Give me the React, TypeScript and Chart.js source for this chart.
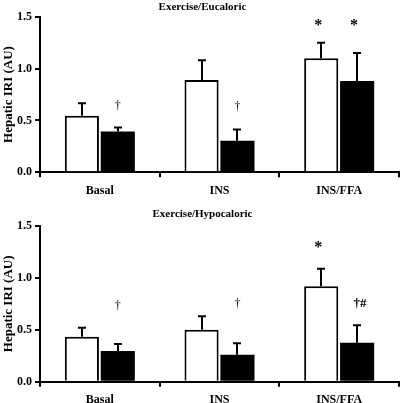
import React, { useEffect, useRef } from "react";
import { Chart, registerables } from "chart.js";

Chart.register(...registerables);

const FONT = "'Liberation Serif', 'Times New Roman', serif";

const categories = ["Basal", "INS", "INS/FFA"];
const yTicks = [0, 0.5, 1.0, 1.5];
const yAxisLabel = "Hepatic IRI (AU)";

// Panel 1: Exercise/Eucaloric
const eucaloricTitle = "Exercise/Eucaloric";
const eucaloricWhite = [0.545, 0.89, 1.1];
const eucaloricWhiteErr = [0.12, 0.19, 0.15];
const eucaloricBlack = [0.393, 0.303, 0.88];
const eucaloricBlackErr = [0.04, 0.11, 0.27];
const eucaloricMarkCats = [0, 1, 2, 2];
const eucaloricMarkSeries = [1, 1, 0, 1];
const eucaloricMarkText = ["†", "†", "*", "*"];
const eucaloricMarkLevel = [0.64, 0.63, 1.445, 1.445];

// Panel 2: Exercise/Hypocaloric
const hypocaloricTitle = "Exercise/Hypocaloric";
const hypocaloricWhite = [0.433, 0.5, 0.919];
const hypocaloricWhiteErr = [0.087, 0.13, 0.17];
const hypocaloricBlack = [0.296, 0.26, 0.376];
const hypocaloricBlackErr = [0.067, 0.11, 0.167];
const hypocaloricMarkCats = [0, 1, 2, 2];
const hypocaloricMarkSeries = [1, 1, 0, 1];
const hypocaloricMarkText = ["†", "†", "*", "†#"];
const hypocaloricMarkLevel = [0.73, 0.757, 1.317, 0.757];

function markFont(t: string) {
  if (t === "*") return `bold 16px ${FONT}`;
  if (t === "†") return `12px ${FONT}`;
  return `bold 13px ${FONT}`;
}
function markDx(t: string) {
  if (t === "*") return -3;
  if (t === "†#") return 3;
  return 0;
}

function drawCentered(ctx: CanvasRenderingContext2D, text: string, x: number, cy: number) {
  const m = ctx.measureText(text);
  ctx.textAlign = "center";
  ctx.textBaseline = "alphabetic";
  const by = cy + (m.actualBoundingBoxAscent - m.actualBoundingBoxDescent) / 2;
  ctx.fillText(text, x, by);
}

type PanelProps = {
  title: string;
  white: number[];
  whiteErr: number[];
  black: number[];
  blackErr: number[];
  markCats: number[];
  markSeries: number[];
  markText: string[];
  markLevel: number[];
  top: number;
  height: number;
  padTop: number;
  xHeight: number;
  titleY: number;
};

function Panel(p: PanelProps) {
  const ref = useRef<HTMLCanvasElement>(null);
  useEffect(() => {
    const canvas = ref.current!;
    const errs = [p.whiteErr, p.blackErr];
    const plugin = {
      id: "extras",
      afterDatasetsDraw(chart: any) {
        const ctx: CanvasRenderingContext2D = chart.ctx;
        const ys = chart.scales.y;
        ctx.save();
        ctx.strokeStyle = "#000";
        ctx.lineWidth = 2;
        chart.data.datasets.forEach((ds: any, di: number) => {
          const meta = chart.getDatasetMeta(di);
          meta.data.forEach((bar: any, i: number) => {
            const v = ds.data[i];
            const e = errs[di][i];
            const x = Math.round(bar.x);
            const y0 = ys.getPixelForValue(v);
            const y1 = ys.getPixelForValue(v + e);
            ctx.beginPath();
            ctx.moveTo(x, y0);
            ctx.lineTo(x, y1);
            ctx.moveTo(x - 4, y1);
            ctx.lineTo(x + 4, y1);
            ctx.stroke();
          });
        });
        ctx.fillStyle = "#000";
        p.markText.forEach((t, k) => {
          const meta = chart.getDatasetMeta(p.markSeries[k]);
          const bar: any = meta.data[p.markCats[k]];
          ctx.font = markFont(t);
          drawCentered(ctx, t, bar.x + markDx(t), ys.getPixelForValue(p.markLevel[k]));
        });
        ctx.restore();
      },
      afterDraw(chart: any) {
        const ctx: CanvasRenderingContext2D = chart.ctx;
        const area = chart.chartArea;
        ctx.save();
        ctx.fillStyle = "#000";
        ctx.font = `bold 11px ${FONT}`;
        drawCentered(ctx, p.title, 202.5, p.titleY);
        ctx.translate(12, (area.top + area.bottom) / 2);
        ctx.rotate(-Math.PI / 2);
        ctx.font = `bold 13px ${FONT}`;
        ctx.textAlign = "center";
        ctx.textBaseline = "alphabetic";
        ctx.fillText(yAxisLabel, 0, 0);
        ctx.restore();
      },
    };
    const chart = new Chart(canvas, {
      type: "bar",
      data: {
        labels: categories,
        datasets: [
          {
            data: p.white,
            backgroundColor: "#ffffff",
            borderColor: "#000000",
            borderWidth: 2,
            categoryPercentage: 0.6,
            barPercentage: 0.95,
          },
          {
            data: p.black,
            backgroundColor: "#000000",
            borderColor: "#000000",
            borderWidth: 0,
            categoryPercentage: 0.6,
            barPercentage: 0.95,
          },
        ],
      },
      options: {
        animation: false,
        responsive: false,
        devicePixelRatio: 1,
        layout: { padding: { top: p.padTop, right: 1, left: 0, bottom: 0 } },
        plugins: {
          legend: { display: false },
          tooltip: { enabled: false },
          title: { display: false },
        },
        scales: {
          x: {
            grid: {
              display: true,
              drawOnChartArea: false,
              drawTicks: true,
              tickLength: 5,
              color: "#000",
              lineWidth: 2,
              offset: true,
            },
            border: { display: true, color: "#000", width: 2 },
            ticks: {
              color: "#000",
              font: { family: FONT, weight: "bold", size: 12 },
              padding: 6,
            },
            afterFit: (s: any) => {
              s.height = p.xHeight;
            },
          },
          y: {
            min: 0,
            max: 1.5,
            grid: {
              drawOnChartArea: false,
              drawTicks: true,
              tickLength: 5,
              color: "#000",
              lineWidth: 2,
            },
            border: { display: true, color: "#000", width: 2 },
            ticks: {
              color: "#000",
              font: { family: FONT, weight: "bold", size: 12 },
              padding: 3,
              callback: (v: any) => Number(v).toFixed(1),
            },
            afterBuildTicks: (s: any) => {
              s.ticks = yTicks.map((v) => ({ value: v }));
            },
            afterFit: (s: any) => {
              s.width = 40;
            },
          },
        },
      },
      plugins: [plugin],
    } as any);
    return () => chart.destroy();
  }, []);
  return (
    <canvas
      ref={ref}
      width={400}
      height={p.height}
      style={{ position: "absolute", left: 0, top: p.top, width: 400, height: p.height, display: "block" }}
    />
  );
}

export default function App() {
  return (
    <div style={{ position: "absolute", left: 0, top: 0, width: 400, height: 403, background: "#fff" }}>
      <Panel
        title={eucaloricTitle}
        white={eucaloricWhite}
        whiteErr={eucaloricWhiteErr}
        black={eucaloricBlack}
        blackErr={eucaloricBlackErr}
        markCats={eucaloricMarkCats}
        markSeries={eucaloricMarkSeries}
        markText={eucaloricMarkText}
        markLevel={eucaloricMarkLevel}
        top={0}
        height={200}
        padTop={16.7}
        xHeight={27.7}
        titleY={6.5}
      />
      <Panel
        title={hypocaloricTitle}
        white={hypocaloricWhite}
        whiteErr={hypocaloricWhiteErr}
        black={hypocaloricBlack}
        blackErr={hypocaloricBlackErr}
        markCats={hypocaloricMarkCats}
        markSeries={hypocaloricMarkSeries}
        markText={hypocaloricMarkText}
        markLevel={hypocaloricMarkLevel}
        top={200}
        height={203}
        padTop={26}
        xHeight={21.3}
        titleY={14}
      />
    </div>
  );
}
